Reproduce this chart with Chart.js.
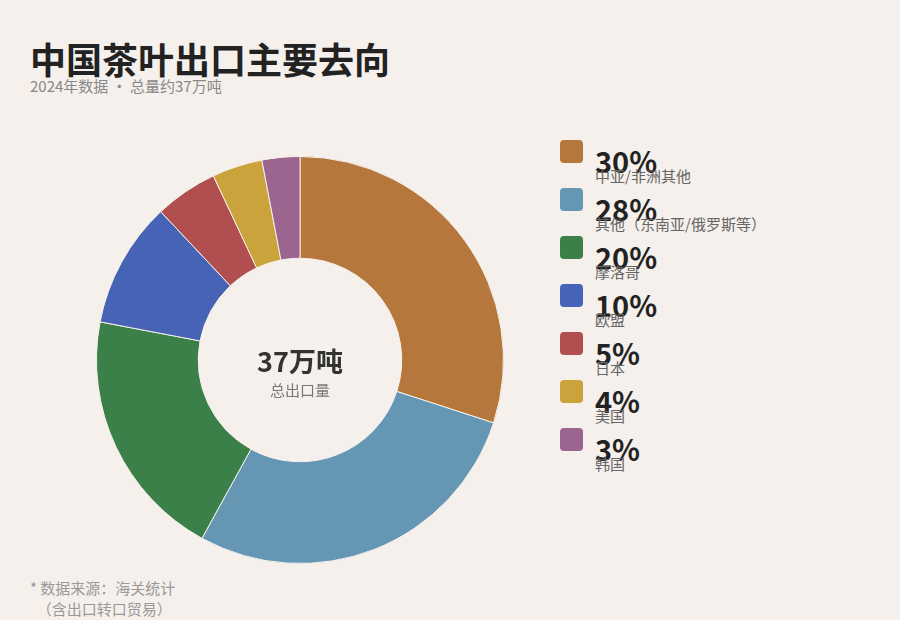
<!DOCTYPE html>
<html><head><meta charset="utf-8">
<script src="https://cdn.jsdelivr.net/npm/chart.js@4/dist/chart.umd.min.js"></script>
<style>
body{margin:0;width:900px;height:620px;background:#f5f0eb;font-family:"Noto Sans CJK SC","Noto Sans",sans-serif;position:relative;overflow:hidden}
#title{position:absolute;left:30px;top:32px;font-size:36px;font-weight:bold;color:#222}
#sub{position:absolute;left:30px;top:75px;font-size:15px;color:#888}
#wrap{position:absolute;left:96px;top:156px;width:408px;height:408px}
#center{position:absolute;left:200px;top:345px;width:200px;text-align:center}
#center b{display:block;font-size:27px;color:#333;line-height:32px}
#center span{font-size:15px;color:#777}
#legend{position:absolute;left:560px;top:140px}
.item{position:relative;height:48px}
.sw{position:absolute;left:0;top:0;width:23px;height:23px;border-radius:4px}
.pct{position:absolute;left:35px;top:2px;font-size:29px;font-weight:bold;color:#222;line-height:36px}
.lab{position:absolute;left:35px;top:26px;font-size:15px;color:#666;white-space:nowrap;line-height:20px}
#note{position:absolute;left:30px;top:577px;font-size:15px;color:#999;line-height:21px}
</style></head><body>
<div id="title">中国茶叶出口主要去向</div>
<div id="sub">2024年数据 · 总量约37万吨</div>
<div id="wrap"><canvas id="c"></canvas></div>
<div id="center"><b>37万吨</b><span>总出口量</span></div>
<div id="legend"></div>
<div id="note">* 数据来源：海关统计<br>&nbsp;&nbsp;（含出口转口贸易）</div>
<script>
var labels = ["中亚/非洲其他", "其他（东南亚/俄罗斯等）", "摩洛哥", "欧盟", "日本", "美国", "韩国"];
var values = [30, 28, 20, 10, 5, 4, 3];
var colors = ["#b5773b", "#6597b5", "#3b8049", "#4763b5", "#b14e50", "#caa33d", "#9b6590"];

var lg = document.getElementById('legend');
labels.forEach(function(l, i){
    lg.innerHTML += '<div class="item"><div class="sw" style="background:' + colors[i] + '"></div><div class="pct">' + values[i] + '%</div><div class="lab">' + l + '</div></div>';
});

new Chart(document.getElementById('c').getContext('2d'), {
    type: 'doughnut',
    data: {
        labels: labels,
        datasets: [{
            data: values,
            backgroundColor: colors,
            borderColor: '#f5f0eb',
            borderWidth: 1
        }]
    },
    options: {
        responsive: true,
        maintainAspectRatio: false,
        animation: false,
        cutout: '50%',
        plugins: { legend: { display: false }, tooltip: { enabled: false } }
    }
});
</script>
</body></html>
